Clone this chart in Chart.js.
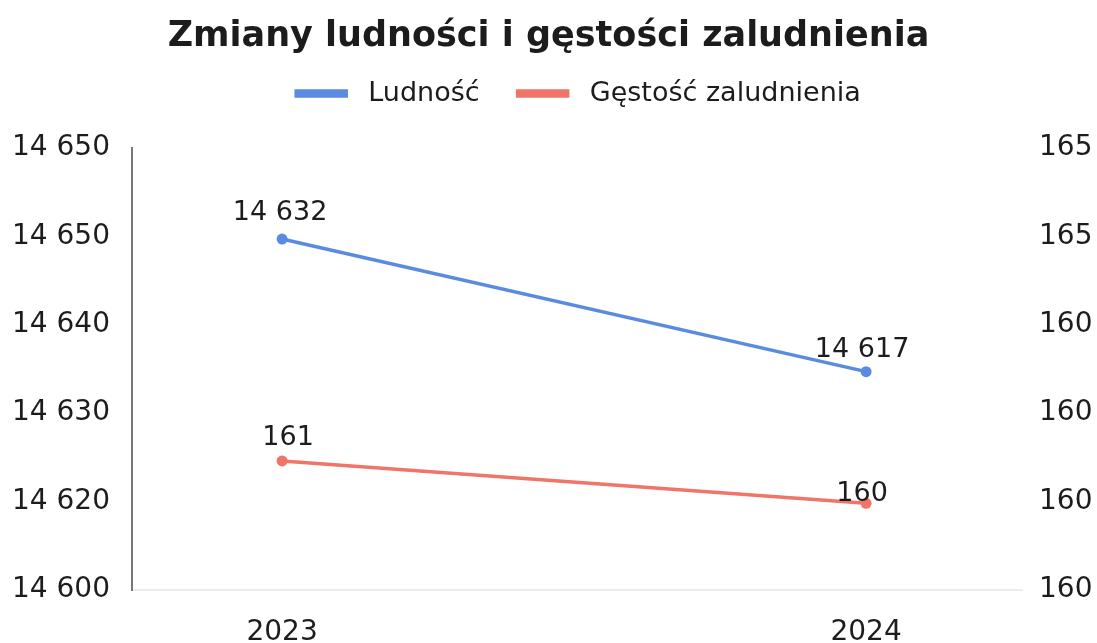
<!DOCTYPE html>
<html lang="pl">
<head>
<meta charset="utf-8">
<title>Zmiany ludności i gęstości zaludnienia</title>
<script src="https://cdn.jsdelivr.net/npm/chart.js@4.4.1/dist/chart.umd.min.js"></script>
<style>
    html, body { margin: 0; padding: 0; background: #fff; }
    #wrap { width: 1097px; height: 643px; position: relative; }
</style>
</head>
<body>
<div id="wrap"><canvas id="chart"></canvas></div>
<script>
const years = ['2023', '2024'];
const population = [14632, 14617];
const density = [160.46, 159.98];
const populationLabels = ['14 632', '14 617'];
const densityLabels = ['161', '160'];
const leftTickLabels = ['14 600', '14 620', '14 630', '14 640', '14 650', '14 650'];
const rightTickLabels = ['160', '160', '160', '160', '165', '165'];

const blue = '#5a8be0';
const red = '#f07468';
const textColor = '#1c1c1c';
const fontFamily = '"DejaVu Sans", Arial, sans-serif';

// Draws the value labels above the points
const pointLabels = {
    id: 'pointLabels',
    afterDatasetsDraw(chart, args, opts) {
        const ctx = chart.ctx;
        ctx.save();
        ctx.font = `27px ${fontFamily}`;
        ctx.fillStyle = textColor;
        ctx.textAlign = 'center';
        ctx.textBaseline = 'middle';
        chart.data.datasets.forEach((ds, di) => {
            const meta = chart.getDatasetMeta(di);
            meta.data.forEach((pt, i) => {
                const off = opts.offsets[di][i];
                ctx.fillText(ds.valueLabels[i], pt.x + off[0], pt.y - off[1]);
            });
        });
        ctx.restore();
    }
};

// Adds room under the legend and nudges it sideways
const legendTweak = {
    id: 'legendTweak',
    beforeLayout(chart, args, opts) {
        const lg = chart.legend;
        if (lg && !lg._patched) {
            const fit = lg.fit.bind(lg);
            lg.fit = function () {
                fit();
                this.height += opts.gap;
            };
            const draw = lg.draw.bind(lg);
            lg.draw = function () {
                this.ctx.save();
                this.ctx.translate(opts.shiftX, 0);
                draw();
                this.ctx.restore();
            };
            lg._patched = true;
        }
    }
};

const ctx = document.getElementById('chart').getContext('2d');
new Chart(ctx, {
    type: 'line',
    data: {
        datasets: [
            {
                label: 'Ludność',
                data: population.map((v, i) => ({ x: i, y: v })),
                valueLabels: populationLabels,
                yAxisID: 'y',
                borderColor: blue,
                backgroundColor: blue,
                borderWidth: 3.5,
                pointRadius: 5.5,
                pointBackgroundColor: blue,
                pointBorderWidth: 0
            },
            {
                label: 'Gęstość zaludnienia',
                data: density.map((v, i) => ({ x: i, y: v })),
                valueLabels: densityLabels,
                yAxisID: 'y1',
                borderColor: red,
                backgroundColor: red,
                borderWidth: 3.5,
                pointRadius: 5.5,
                pointBackgroundColor: red,
                pointBorderWidth: 0
            }
        ]
    },
    options: {
        responsive: true,
        maintainAspectRatio: false,
        animation: false,
        layout: { padding: { left: 0, right: 0, top: 10, bottom: 0 } },
        plugins: {
            title: {
                display: true,
                text: 'Zmiany ludności i gęstości zaludnienia',
                color: textColor,
                font: { family: fontFamily, size: 35, weight: 'bold' },
                padding: { top: 6, bottom: -16 }
            },
            legend: {
                display: true,
                position: 'top',
                labels: {
                    color: textColor,
                    font: { family: fontFamily, size: 27 },
                    boxWidth: 50,
                    boxHeight: 5,
                    padding: 38,
                    generateLabels(chart) {
                        const items = Chart.defaults.plugins.legend.labels.generateLabels(chart);
                        items.forEach(it => { it.text = ' ' + it.text; });
                        return items;
                    }
                }
            },
            legendTweak: { gap: 31, shiftX: 30 },
            tooltip: { enabled: false },
            pointLabels: {
                offsets: [
                    [[-2, 26], [-4, 22]],
                    [[6, 23], [-4, 9]]
                ]
            }
        },
        scales: {
            x: {
                type: 'linear',
                min: -0.257,
                max: 1.267,
                afterBuildTicks(axis) {
                    axis.ticks = years.map((_, i) => ({ value: i }));
                },
                afterFit(axis) { axis.height = 53; },
                grid: { display: false, drawTicks: false },
                border: { display: true, color: '#ececec', width: 2 },
                ticks: {
                    color: textColor,
                    font: { family: fontFamily, size: 28 },
                    padding: 26,
                    callback: (value) => years[value]
                }
            },
            y: {
                position: 'left',
                min: 14592.3,
                max: 14642.3,
                ticks: {
                    stepSize: 10,
                    color: textColor,
                    font: { family: fontFamily, size: 28 },
                    padding: 22,
                    callback: (value, index) => leftTickLabels[index]
                },
                afterFit(axis) { axis.width = 132; },
                grid: { display: false, drawTicks: false },
                border: { display: true, color: '#777', width: 2 }
            },
            y1: {
                position: 'right',
                min: 159,
                max: 164,
                ticks: {
                    stepSize: 1,
                    color: textColor,
                    font: { family: fontFamily, size: 28 },
                    padding: 17,
                    callback: (value, index) => rightTickLabels[index]
                },
                afterFit(axis) { axis.width = 75; },
                grid: { display: false, drawTicks: false },
                border: { display: false }
            }
        }
    },
    plugins: [pointLabels, legendTweak]
});
</script>
</body>
</html>
